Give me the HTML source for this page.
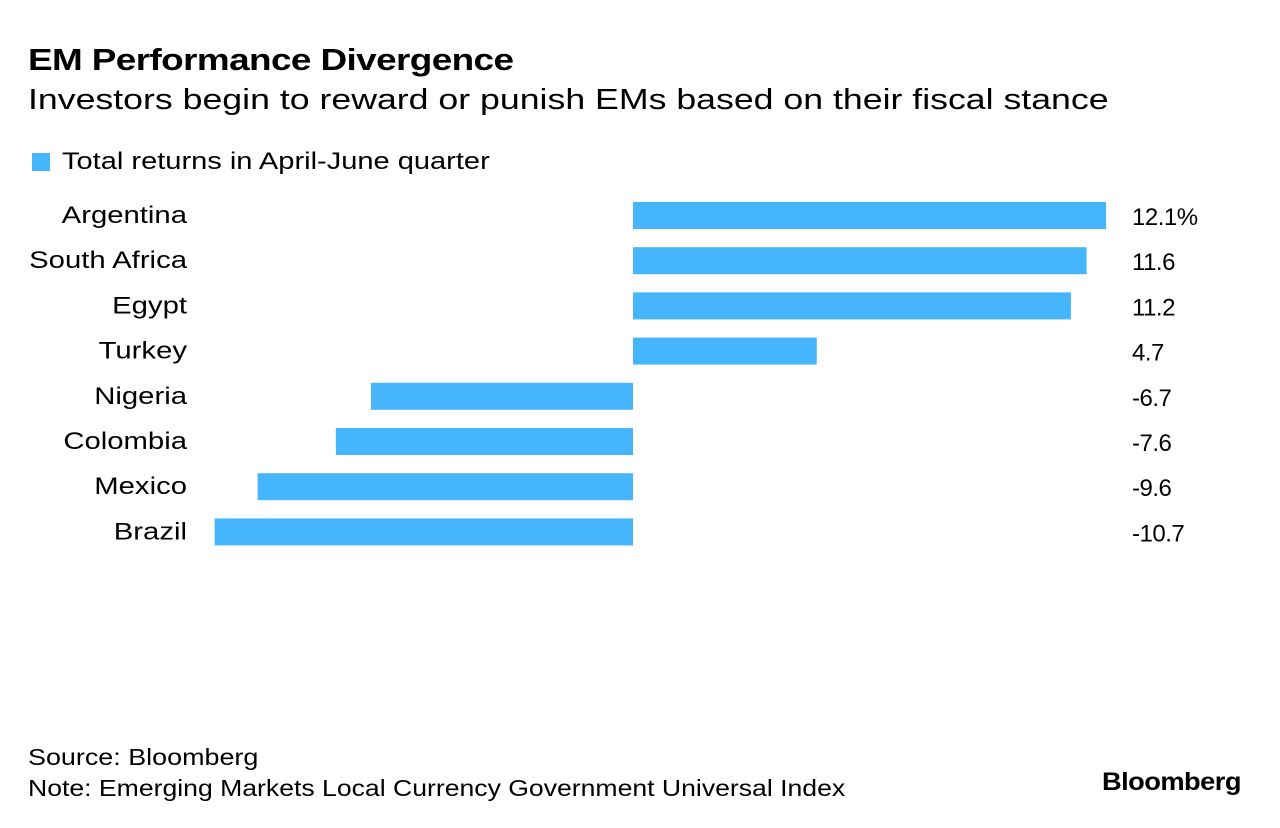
<!DOCTYPE html>
<html><head><meta charset="utf-8"><style>
body{margin:0;width:1280px;height:828px;background:#fff;font-family:"Liberation Sans",sans-serif;color:#000;overflow:hidden;position:relative}
.t{position:absolute;white-space:nowrap;transform-origin:0 0}
</style></head><body>
<div class="t" style="left:28px;top:42px;font-size:31px;font-weight:bold;letter-spacing:-0.5px;transform:scaleX(1.19)">EM Performance Divergence</div>
<div class="t" style="left:28px;top:84px;font-size:29px;transform:scaleX(1.23)">Investors begin to reward or punish EMs based on their fiscal stance</div>
<div class="t" style="left:32px;top:153px;width:18px;height:18px;background:#45b6fb"></div>
<div class="t" style="left:62px;top:148px;font-size:24px;transform:scaleX(1.21)">Total returns in April-June quarter</div>
<svg id="chart" width="1280" height="828" style="position:absolute;left:0;top:0"></svg>
<div class="t" style="left:28px;top:744px;font-size:23px;transform:scaleX(1.17)">Source: Bloomberg</div>
<div class="t" style="left:28px;top:775px;font-size:23px;transform:scaleX(1.156)">Note: Emerging Markets Local Currency Government Universal Index</div>
<div class="t" style="left:1102px;top:768px;font-size:25px;font-weight:bold;letter-spacing:-0.5px;transform:scaleX(1.09)">Bloomberg</div>
<script>
const categories=["Argentina","South Africa","Egypt","Turkey","Nigeria","Colombia","Mexico","Brazil"];
const values=[12.1,11.6,11.2,4.7,-6.7,-7.6,-9.6,-10.7];
const valueLabels=["12.1%","11.6","11.2","4.7","-6.7","-7.6","-9.6","-10.7"];
const svg=document.getElementById('chart');
const NS="http://www.w3.org/2000/svg";
const x0=633,scale=39.1;
function xs(v){return x0+v*scale;}
function ys(i){return 202+i*45.2;}
categories.forEach((c,i)=>{
  const v=values[i];
  const r=document.createElementNS(NS,'rect');
  r.setAttribute('x',Math.min(xs(0),xs(v)));
  r.setAttribute('y',ys(i));
  r.setAttribute('width',Math.abs(xs(v)-xs(0)));
  r.setAttribute('height',27);
  r.setAttribute('fill','#45b6fb');
  
  
  svg.appendChild(r);
  const l=document.createElementNS(NS,'text');
  l.setAttribute('x',187);l.setAttribute('y',ys(i)+21);
  l.setAttribute('text-anchor','end');l.setAttribute('font-size','24');
  l.setAttribute('font-family','Liberation Sans, sans-serif');
  l.setAttribute('transform','translate(187,0) scale(1.22,1) translate(-187,0)');
  l.textContent=c;
  
  
  svg.appendChild(l);
  const t=document.createElementNS(NS,'text');
  t.setAttribute('x',1132);t.setAttribute('y',ys(i)+23);
  t.setAttribute('font-size','24');
  t.setAttribute('font-family','Liberation Sans, sans-serif');
  t.setAttribute('letter-spacing','-0.5');
  t.textContent=valueLabels[i];
  
  
  svg.appendChild(t);
});
</script>
</body></html>
